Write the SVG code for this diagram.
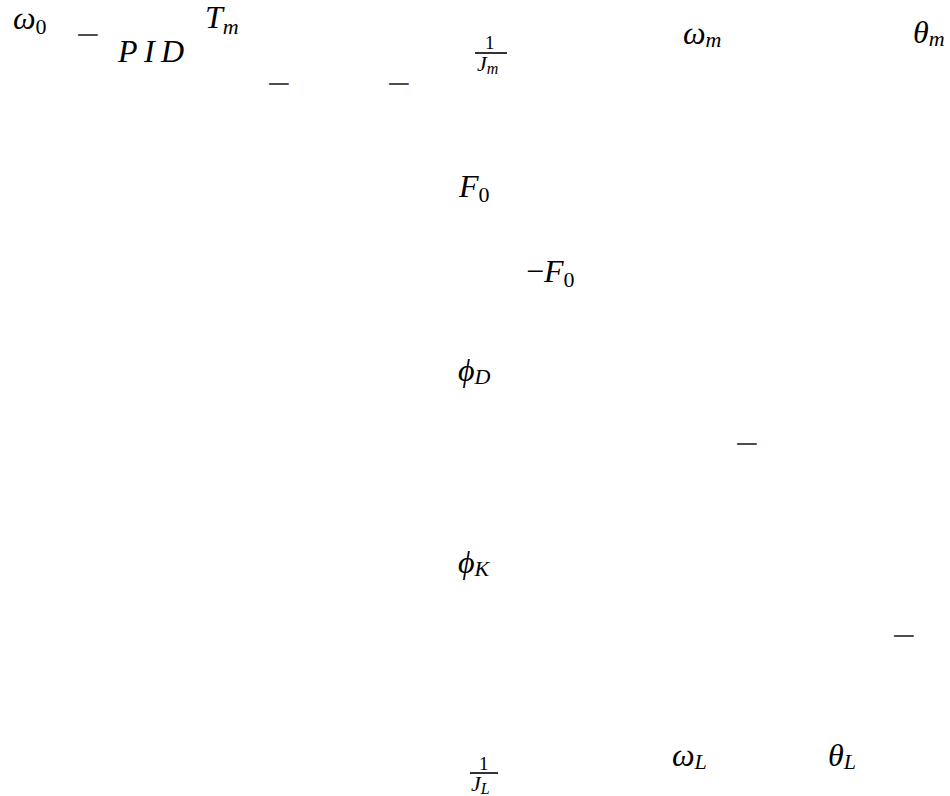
<svg xmlns="http://www.w3.org/2000/svg" width="950" height="796" viewBox="0 0 950 796">
<style>
text{font-family:"Liberation Serif","DejaVu Serif",serif;fill:#000}
.m{font-size:32px;font-style:italic}
.s{font-size:22px;font-style:italic}
.u{font-style:normal}
.f{font-size:19px;font-style:normal}
.fi{font-size:22px;font-style:italic}
.minus{font-size:42px;fill:#4d4d4d;font-style:normal}
.bar{stroke:#000;stroke-width:1.6}
</style>
<rect width="950" height="796" fill="#fff"/>
<g id="omega0"><text class="m" x="13" y="29">ω<tspan class="s u" dy="5">0</tspan></text></g>
<g id="minus1"><text class="minus" x="76" y="49">−</text></g>
<g id="pid"><text class="m" x="118" y="62" font-size="33" textLength="66">PID</text></g>
<g id="Tm"><text class="m" x="205" y="28">T<tspan class="s" dy="6">m</tspan></text></g>
<g id="minus2"><text class="minus" x="267" y="98">−</text></g>
<g id="minus3"><text class="minus" x="387" y="98">−</text></g>
<g id="invJm"><text class="f" x="485" y="49">1</text><line class="bar" x1="475" y1="53" x2="507" y2="53"/><text class="fi" x="477" y="71">J<tspan font-size="16" dy="3">m</tspan></text></g>
<g id="omegam"><text class="m" x="683" y="44">ω<tspan class="s" dy="3">m</tspan></text></g>
<g id="thetam"><text class="m" x="913" y="43">θ<tspan class="s" dy="3">m</tspan></text></g>
<g id="F0"><text class="m" x="459" y="197">F<tspan class="s u" dy="5">0</tspan></text></g>
<g id="negF0"><text class="m" x="526" y="282"><tspan class="u">−</tspan>F<tspan class="s u" dy="5">0</tspan></text></g>
<g id="phiD"><text class="m" x="458" y="381">ϕ<tspan class="s" dy="3">D</tspan></text></g>
<g id="minus4"><text class="minus" x="735" y="458">−</text></g>
<g id="phiK"><text class="m" x="458" y="573">ϕ<tspan class="s" dy="3">K</tspan></text></g>
<g id="minus5"><text class="minus" x="892" y="650">−</text></g>
<g id="invJL"><text class="f" x="479" y="770">1</text><line class="bar" x1="470" y1="773" x2="498" y2="773"/><text class="fi" x="471" y="791">J<tspan font-size="16" dy="3">L</tspan></text></g>
<g id="omegaL"><text class="m" x="672" y="766">ω<tspan class="s" dy="3">L</tspan></text></g>
<g id="thetaL"><text class="m" x="828" y="766">θ<tspan class="s" dy="3">L</tspan></text></g>
</svg>
